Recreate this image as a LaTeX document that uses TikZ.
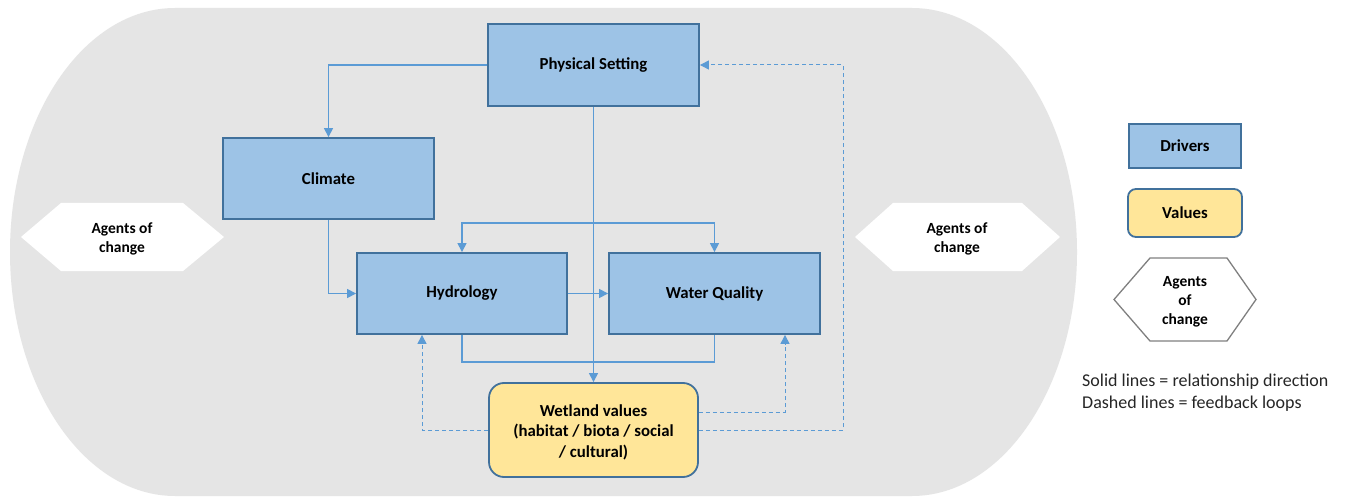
\documentclass[tikz,border=0pt]{standalone}
\usepackage{fontspec}
\setmainfont{Carlito}
\usetikzlibrary{arrows.meta}
\definecolor{bggray}{HTML}{E5E5E5}
\definecolor{drvfill}{HTML}{9DC3E6}
\definecolor{drvline}{HTML}{41719C}
\definecolor{valfill}{HTML}{FFE699}
\definecolor{link}{HTML}{5B9BD5}
\definecolor{hexline}{HTML}{808080}
\definecolor{txt}{HTML}{262626}
\tikzset{
  driver/.style={draw=drvline, fill=drvfill, line width=1.8pt, font=\bfseries\fontsize{16.8}{19}\selectfont, align=center, inner sep=0pt},
  valuebox/.style={draw=drvline, fill=valfill, line width=1.8pt, rounded corners=15pt, font=\bfseries\fontsize{16.8}{20.5}\selectfont, align=center, inner sep=0pt},
  agenttext/.style={font=\bfseries\fontsize{15.5}{19}\selectfont, align=center, text=black},
  rel/.style={draw=link, line width=1.2pt, -{Triangle[length=9pt,width=9pt]}},
  relplain/.style={draw=link, line width=1.2pt},
  relboth/.style={draw=link, line width=1.2pt, {Triangle[length=9pt,width=9pt]}-{Triangle[length=9pt,width=9pt]}},
  feedback/.style={draw=link, line width=1pt, dash pattern=on 4pt off 3pt, -{Triangle[length=9pt,width=9pt]}},
}
\begin{document}
\begin{tikzpicture}[x=1pt,y=-1pt]
\useasboundingbox (0,0) rectangle (1347,497);
\fill[white] (0,0) rectangle (1347,497);

% grey system boundary (stadium shape)
\fill[bggray] (175,8) -- (912,8) arc[start angle=90,end angle=-90,x radius=165,y radius=-244]
  -- (175,496) arc[start angle=270,end angle=90,x radius=165,y radius=-244] -- cycle;

% agents of change, either side of the system
\fill[white] (21,237) -- (61,203) -- (183,203) -- (224,237) -- (183,271) -- (61,271) -- cycle;
\node[agenttext] (agentL) at (122,239) {Agents of\\change};
\fill[white] (855,237) -- (893,203) -- (1022,203) -- (1060,237) -- (1022,271) -- (893,271) -- cycle;
\node[agenttext] (agentR) at (957,239) {Agents of\\change};

% drivers
\node[driver, minimum width=211pt, minimum height=82pt] (phys) at (593.5,65) {Physical Setting};
\node[driver, minimum width=211pt, minimum height=81pt] (clim) at (328.5,178.5) {Climate};
\node[driver, minimum width=210pt, minimum height=81pt] (hyd) at (462,293.5) {Hydrology};
\node[driver, minimum width=211pt, minimum height=81pt] (wq) at (714.5,293.5) {Water Quality};

% values
\node[valuebox, minimum width=209pt, minimum height=94pt] (wet) at (593.5,430) {};
\node[font=\bfseries\fontsize{16.8}{20.5}\selectfont, align=center, inner sep=0pt] (wettext) at (593.5,432)
  {Wetland values\\(habitat / biota / social\\/ cultural)};

% helper coordinates for connector routing
\coordinate (topbar) at (0,223);
\coordinate (botbar) at (0,362);
\coordinate (fbH) at (422,0);
\coordinate (fbQx) at (785,0);
\coordinate (fbQy) at (0,412);
\coordinate (fbP) at (843,0);

% relationship directions
\draw[rel] (phys.west) -| (clim.north);
\draw[rel] (phys.south) -- (wet.north);
\draw[rel] (clim.south) |- (hyd.west);
\draw[rel] (hyd.east) -- (wq.west);
\draw[relboth] (hyd.north) -- (hyd.north |- topbar) -- (wq.north |- topbar) -- (wq.north);
\draw[relplain] (hyd.south) -- (hyd.south |- botbar) -- (wq.south |- botbar) -- (wq.south);

% feedback loops
\draw[feedback] (wet.west) -| (hyd.south -| fbH);
\draw[feedback] (wet.east |- fbQy) -| (wq.south -| fbQx);
\draw[feedback] (wet.east) -| (phys.east -| fbP) -- (phys.east);

% legend
\node[driver, minimum width=112pt, minimum height=44pt] (legD) at (1185,146) {Drivers};
\node[valuebox, rounded corners=8pt, minimum width=114pt, minimum height=48pt] (legV) at (1185,213) {Values};
\draw[hexline, fill=white, line width=1.3pt] (1114,299.5) -- (1150,258) -- (1227,258) -- (1256,299.5) -- (1227,341) -- (1150,341) -- cycle;
\node[agenttext] (legA) at (1185,301.5) {Agents\\of\\change};
\node[anchor=north west, align=left, text=txt, font=\fontsize{18}{22}\selectfont, inner sep=0pt] (legT) at (1082,374)
  {Solid lines = relationship direction\\Dashed lines = feedback loops};
\end{tikzpicture}
\end{document}
